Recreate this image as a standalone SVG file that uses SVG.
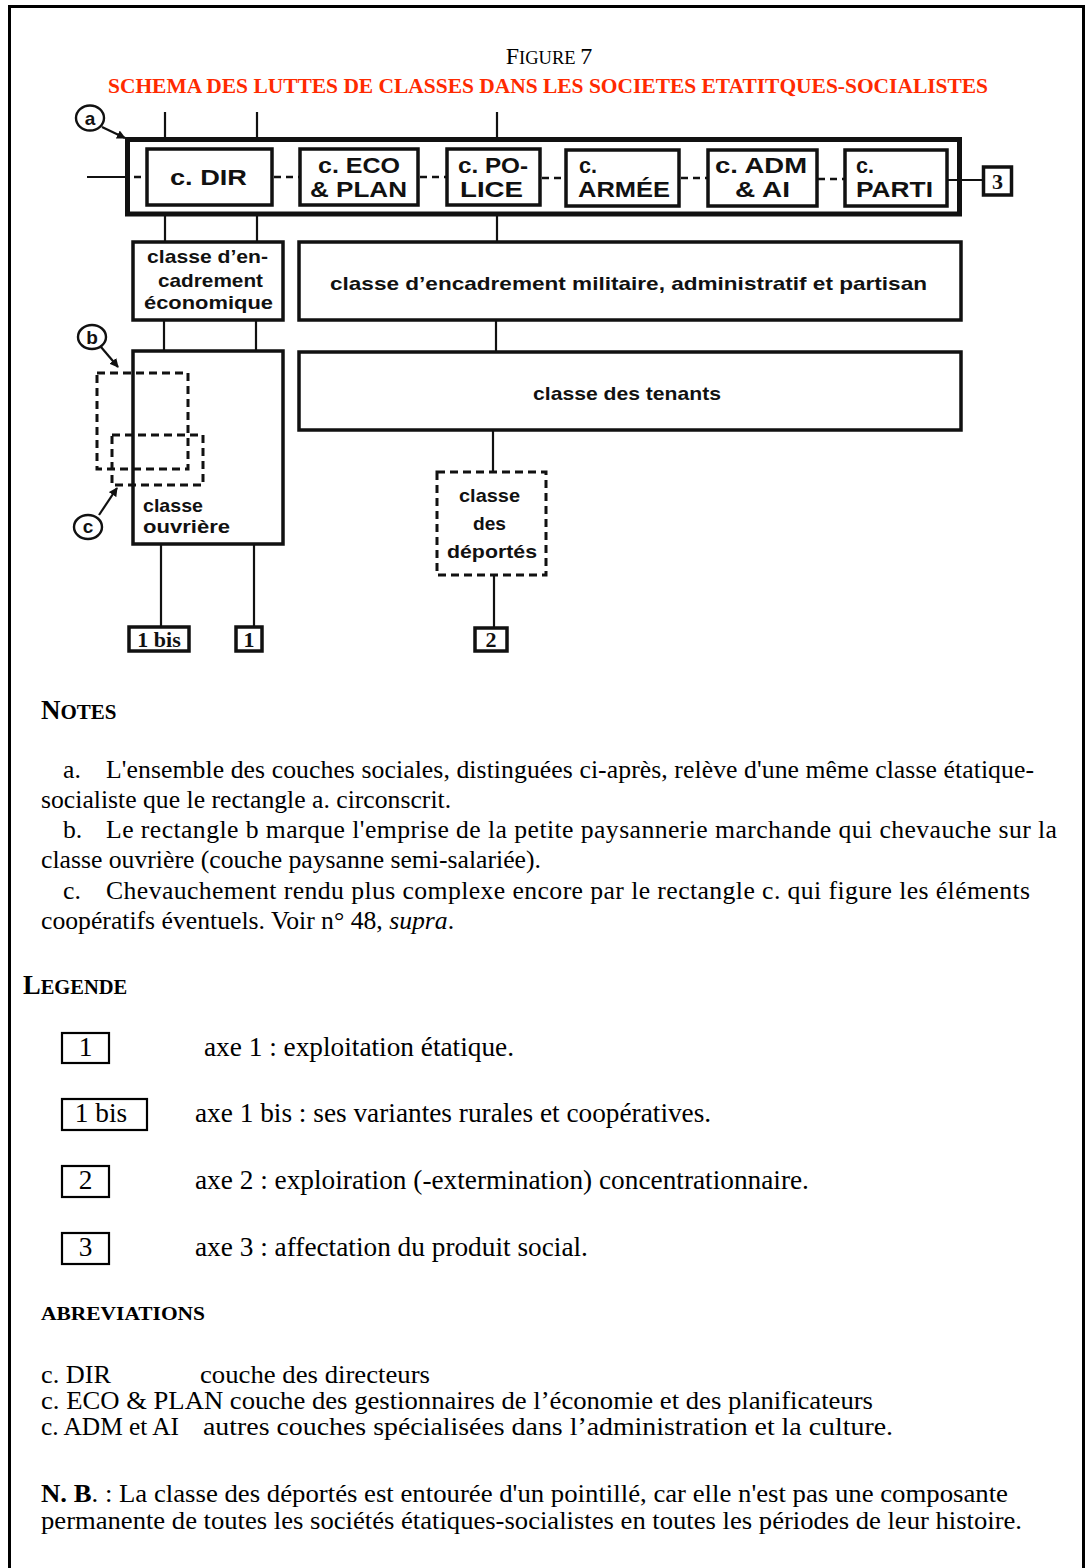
<svg xmlns="http://www.w3.org/2000/svg" width="1086" height="1568" viewBox="0 0 1086 1568">
<style>
.frame{fill:none;stroke:#000;stroke-width:3}
.box{fill:#fff;stroke:#111;stroke-width:3.5}
.thick{fill:none;stroke:#111;stroke-width:5}
.dbox{fill:none;stroke:#111;stroke-width:3;stroke-dasharray:8 5}
.ln{fill:none;stroke:#111;stroke-width:2.2}
.dl{fill:none;stroke:#111;stroke-width:2.5;stroke-dasharray:7 5}
.lab{font-family:"Liberation Sans",Arial,sans-serif;font-weight:bold;fill:#111;font-size:21.5px}
.lab2{font-family:"Liberation Sans",Arial,sans-serif;font-weight:bold;fill:#111;font-size:19px}
.num{font-family:"Liberation Serif","Times New Roman",serif;font-weight:bold;fill:#111;font-size:22px}
.circ{fill:#fff;stroke:#111;stroke-width:2.4}
.cl{font-family:"Liberation Sans",Arial,sans-serif;font-weight:bold;fill:#111;font-size:19px}
.t{font-family:"Liberation Serif","Times New Roman",serif;fill:#000}
.n{font-size:25.7px}
.g{font-size:27.3px}
.ab{font-size:24.5px}
.b{font-weight:bold}
.lbox{fill:none;stroke:#000;stroke-width:2.2}
</style>
<defs>
<marker id="ah" markerWidth="9" markerHeight="9" refX="8" refY="4.5" orient="auto" markerUnits="userSpaceOnUse">
<path d="M0,0 L9,4.5 L0,9 z" fill="#111"/>
</marker>
</defs>
<rect class="frame" x="9.5" y="6.5" width="1074" height="1600"/>

<g id="title">
<text x="549" y="64" text-anchor="middle" font-family="Liberation Serif,Times New Roman,serif" fill="#000"><tspan font-size="24">F</tspan><tspan font-size="18.5">IGURE </tspan><tspan font-size="24">7</tspan></text>
<text x="548" y="93" text-anchor="middle" font-family="Liberation Serif,Times New Roman,serif" font-weight="bold" font-size="21" fill="#ff2a00" textLength="880" lengthAdjust="spacingAndGlyphs">SCHEMA DES LUTTES DE CLASSES DANS LES SOCIETES ETATITQUES-SOCIALISTES</text>
</g>

<g id="connectors">
<line class="ln" x1="165" y1="112" x2="165" y2="139"/>
<line class="ln" x1="257" y1="112" x2="257" y2="139"/>
<line class="ln" x1="497" y1="112" x2="497" y2="139"/>
<line class="ln" x1="165" y1="214" x2="165" y2="242"/>
<line class="ln" x1="257" y1="214" x2="257" y2="242"/>
<line class="ln" x1="497" y1="214" x2="497" y2="242"/>
<line class="ln" x1="87" y1="177" x2="127" y2="177"/>
<line class="dl" x1="134" y1="177" x2="147" y2="177"/>
<line class="dl" x1="274" y1="177" x2="300" y2="177"/>
<line class="dl" x1="420" y1="177" x2="447" y2="177"/>
<line class="dl" x1="542" y1="178" x2="566" y2="178"/>
<line class="dl" x1="681" y1="178" x2="708" y2="178"/>
<line class="dl" x1="818" y1="179" x2="845" y2="179"/>
<line class="ln" x1="948" y1="180" x2="983" y2="180"/>
<line class="ln" x1="164" y1="320" x2="164" y2="351"/>
<line class="ln" x1="256" y1="320" x2="256" y2="351"/>
<line class="ln" x1="496" y1="320" x2="496" y2="352"/>
<line class="ln" x1="493" y1="430" x2="493" y2="472"/>
<line class="dl" x1="162" y1="353" x2="162" y2="494"/>
<line class="ln" x1="161" y1="544" x2="161" y2="627"/>
<line class="ln" x1="254" y1="544" x2="254" y2="627"/>
<line class="ln" x1="494" y1="575" x2="494" y2="628"/>
<line class="ln" x1="102" y1="127" x2="125" y2="138" marker-end="url(#ah)"/>
<line class="ln" x1="101" y1="347" x2="118" y2="367" marker-end="url(#ah)"/>
<line class="ln" x1="99" y1="515" x2="117" y2="488" marker-end="url(#ah)"/>
</g>

<g id="node-a">
<rect class="thick" x="127.5" y="139.5" width="832" height="74.5"/>
<ellipse class="circ" cx="90" cy="118" rx="14" ry="12.5"/>
<text class="cl" x="90" y="124.5" text-anchor="middle">a</text>
</g>

<g id="node-dir">
<rect class="box" x="147" y="149" width="125" height="56"/>
<text class="lab" x="170" y="185" textLength="77" lengthAdjust="spacingAndGlyphs">c. DIR</text>
</g>
<g id="node-eco">
<rect class="box" x="300" y="149" width="118" height="56"/>
<text class="lab" x="318" y="173" textLength="82" lengthAdjust="spacingAndGlyphs">c. ECO</text>
<text class="lab" x="310" y="197" textLength="97" lengthAdjust="spacingAndGlyphs">&amp; PLAN</text>
</g>
<g id="node-police">
<rect class="box" x="447" y="149" width="93" height="56"/>
<text class="lab" x="458" y="173" textLength="70" lengthAdjust="spacingAndGlyphs">c. PO-</text>
<text class="lab" x="460" y="197" textLength="63" lengthAdjust="spacingAndGlyphs">LICE</text>
</g>
<g id="node-armee">
<rect class="box" x="566" y="150" width="113" height="56"/>
<text class="lab" x="579" y="173" font-size="19">c.</text>
<text class="lab" x="578" y="197" textLength="92" lengthAdjust="spacingAndGlyphs">ARMÉE</text>
</g>
<g id="node-adm">
<rect class="box" x="708" y="150" width="109" height="56"/>
<text class="lab" x="715" y="173" textLength="92" lengthAdjust="spacingAndGlyphs">c. ADM</text>
<text class="lab" x="735" y="197" textLength="55" lengthAdjust="spacingAndGlyphs">&amp; AI</text>
</g>
<g id="node-parti">
<rect class="box" x="845" y="150" width="102" height="56"/>
<text class="lab" x="856" y="173" font-size="19">c.</text>
<text class="lab" x="856" y="197" textLength="77" lengthAdjust="spacingAndGlyphs">PARTI</text>
</g>
<g id="node-3">
<rect class="box" x="983.5" y="167" width="28" height="28" stroke-width="2.5"/>
<text class="num" x="997.5" y="189" text-anchor="middle">3</text>
</g>

<g id="node-eco-class">
<rect class="box" x="133" y="242" width="150" height="78"/>
<text class="lab2" x="147" y="263" textLength="121" lengthAdjust="spacingAndGlyphs">classe d’en-</text>
<text class="lab2" x="158" y="287" textLength="105" lengthAdjust="spacingAndGlyphs">cadrement</text>
<text class="lab2" x="144" y="309" textLength="129" lengthAdjust="spacingAndGlyphs">économique</text>
</g>
<g id="node-militaire">
<rect class="box" x="299" y="242" width="662" height="78"/>
<text class="lab2" x="330" y="290" textLength="597" lengthAdjust="spacingAndGlyphs">classe d’encadrement militaire, administratif et partisan</text>
</g>
<g id="node-tenants">
<rect class="box" x="299" y="352" width="662" height="78"/>
<text class="lab2" x="533" y="400" textLength="188" lengthAdjust="spacingAndGlyphs">classe des tenants</text>
</g>
<g id="node-ouvriere">
<rect class="box" x="133" y="351" width="150" height="193" fill="none"/>
<text class="lab2" x="143" y="512" textLength="60" lengthAdjust="spacingAndGlyphs">classe</text>
<text class="lab2" x="143" y="533" textLength="87" lengthAdjust="spacingAndGlyphs">ouvrière</text>
</g>
<g id="node-b">
<rect class="dbox" x="97" y="373" width="91" height="96"/>
<ellipse class="circ" cx="92" cy="337" rx="14" ry="12"/>
<text class="cl" x="92" y="343.5" text-anchor="middle">b</text>
</g>
<g id="node-c">
<rect class="dbox" x="112" y="435" width="91" height="50"/>
<ellipse class="circ" cx="88" cy="527" rx="14" ry="12"/>
<text class="cl" x="88" y="533" text-anchor="middle">c</text>
</g>
<g id="node-deportes">
<rect class="dbox" x="437" y="472" width="109" height="103"/>
<text class="lab2" x="459" y="502" textLength="61" lengthAdjust="spacingAndGlyphs">classe</text>
<text class="lab2" x="473" y="530" textLength="33" lengthAdjust="spacingAndGlyphs">des</text>
<text class="lab2" x="447" y="558" textLength="90" lengthAdjust="spacingAndGlyphs">déportés</text>
</g>
<g id="node-1bis">
<rect class="box" x="129" y="627" width="60" height="24" stroke-width="2.5"/>
<text class="num" x="159" y="647" text-anchor="middle">1 bis</text>
</g>
<g id="node-1">
<rect class="box" x="236" y="627" width="26" height="24" stroke-width="2.5"/>
<text class="num" x="249" y="647" text-anchor="middle">1</text>
</g>
<g id="node-2">
<rect class="box" x="475" y="628" width="32" height="23" stroke-width="2.5"/>
<text class="num" x="491" y="647" text-anchor="middle">2</text>
</g>

<g id="notes">
<text class="t b" x="41" y="719"><tspan font-size="27">N</tspan><tspan font-size="21">OTES</tspan></text>
<text class="t n" x="63" y="778">a.</text>
<text class="t n" x="106" y="778" textLength="928" lengthAdjust="spacing">L'ensemble des couches sociales, distinguées ci-après, relève d'une même classe étatique-</text>
<text class="t n" x="41" y="808">socialiste que le rectangle a. circonscrit.</text>
<text class="t n" x="63" y="838">b.</text>
<text class="t n" x="106" y="838" textLength="951" lengthAdjust="spacing">Le rectangle b marque l'emprise de la petite paysannerie marchande qui chevauche sur la</text>
<text class="t n" x="41" y="868">classe ouvrière (couche paysanne semi-salariée).</text>
<text class="t n" x="63" y="899">c.</text>
<text class="t n" x="106" y="899" textLength="924" lengthAdjust="spacing">Chevauchement rendu plus complexe encore par le rectangle c. qui figure les éléments</text>
<text class="t n" x="41" y="929">coopératifs éventuels. Voir n° 48, <tspan font-style="italic">supra</tspan>.</text>
</g>

<g id="legende">
<text class="t b" x="23" y="994"><tspan font-size="26.5">L</tspan><tspan font-size="20.5">EGENDE</tspan></text>
<rect class="lbox" x="62" y="1033" width="47" height="30"/>
<text class="t g" x="85.5" y="1056" text-anchor="middle">1</text>
<text class="t g" x="204" y="1056">axe 1 : exploitation étatique.</text>
<rect class="lbox" x="62" y="1099" width="85" height="31"/>
<text class="t g" x="101" y="1122" text-anchor="middle">1 bis</text>
<text class="t g" x="195" y="1122">axe 1 bis : ses variantes rurales et coopératives.</text>
<rect class="lbox" x="62" y="1166" width="47" height="31"/>
<text class="t g" x="85.5" y="1189" text-anchor="middle">2</text>
<text class="t g" x="195" y="1189">axe 2 : exploiration (-extermination) concentrationnaire.</text>
<rect class="lbox" x="62" y="1233" width="47" height="31"/>
<text class="t g" x="85.5" y="1256" text-anchor="middle">3</text>
<text class="t g" x="195" y="1256">axe 3 : affectation du produit social.</text>
</g>

<g id="abreviations">
<text class="t b" x="41" y="1320" font-size="18" textLength="164" lengthAdjust="spacingAndGlyphs">ABREVIATIONS</text>
<text class="t ab" x="41" y="1383" textLength="70" lengthAdjust="spacingAndGlyphs">c. DIR</text>
<text class="t ab" x="200" y="1383" textLength="230" lengthAdjust="spacingAndGlyphs">couche des directeurs</text>
<text class="t ab" x="41" y="1409" textLength="832" lengthAdjust="spacingAndGlyphs">c. ECO &amp; PLAN couche des gestionnaires de l’économie et des planificateurs</text>
<text class="t ab" x="41" y="1435" textLength="138" lengthAdjust="spacingAndGlyphs">c. ADM et AI</text>
<text class="t ab" x="203" y="1435" textLength="690" lengthAdjust="spacingAndGlyphs">autres couches spécialisées dans l’administration et la culture.</text>
<text class="t ab" x="41" y="1502" textLength="967" lengthAdjust="spacingAndGlyphs"><tspan font-weight="bold">N. B</tspan>. : La classe des déportés est entourée d'un pointillé, car elle n'est pas une composante</text>
<text class="t ab" x="41" y="1529" textLength="981" lengthAdjust="spacingAndGlyphs">permanente de toutes les sociétés étatiques-socialistes en toutes les périodes de leur histoire.</text>
</g>
</svg>
